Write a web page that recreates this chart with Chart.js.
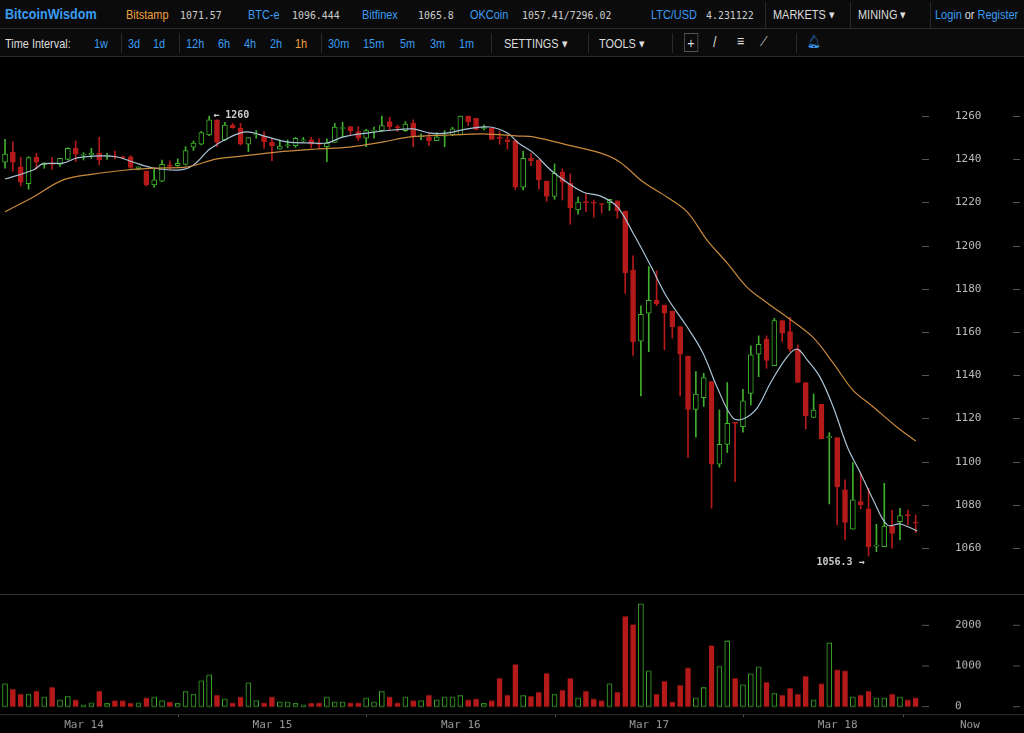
<!DOCTYPE html>
<html>
<head>
<meta charset="utf-8">
<script src="https://cdn.jsdelivr.net/npm/chart.js@4"></script>
<style>
  body { margin: 0; background: #000; width: 1024px; height: 733px; overflow: hidden; position: relative;
         font-family: "Liberation Sans", sans-serif; }
  .row { position: absolute; left: 0; width: 1024px; background: #0b0b0b; }
  #r1 { top: 0; height: 28px; border-bottom: 1px solid #2a2a2a; }
  #r2 { top: 29px; height: 27px; border-bottom: 1px solid #2a2a2a; }
  .t { position: absolute; top: 7px; font-size: 13px; white-space: nowrap; transform: scaleX(0.84); transform-origin: left center; }
  .b { color: #3a9cf2; }
  .o { color: #f0a040; }
  .w { color: #ddd; }
  .n { color: #ccc; font-family: "DejaVu Sans Mono", monospace; font-size: 11px; top: 9px; transform: scaleX(0.9); }
  .sep { position: absolute; top: 4px; width: 1px; height: 20px; background: #2a2a2a; }
  canvas { position: absolute; left: 0; }
  #price { top: 57px; }
  #vol { top: 594px; border-top: 1px solid #333; }
</style>
</head>
<body>
<div class="row" id="r1">
  <span class="t b" style="left:5px;font-size:15px;font-weight:bold;top:5px">BitcoinWisdom</span>
  <span class="t o" style="left:126px">Bitstamp</span><span class="t n" style="left:180px">1071.57</span>
  <span class="t b" style="left:248px">BTC-e</span><span class="t n" style="left:292px">1096.444</span>
  <span class="t b" style="left:362px">Bitfinex</span><span class="t n" style="left:418px">1065.8</span>
  <span class="t b" style="left:470px">OKCoin</span><span class="t n" style="left:522px">1057.41/7296.02</span>
  <span class="t b" style="left:651px">LTC/USD</span><span class="t n" style="left:706px">4.231122</span>
  <div class="sep" style="left:765px;top:2px;height:26px"></div>
  <span class="t w" style="left:773px">MARKETS ▾</span>
  <div class="sep" style="left:850px;top:2px;height:26px"></div>
  <span class="t w" style="left:858px">MINING ▾</span>
  <div class="sep" style="left:930px;top:2px;height:26px"></div>
  <span class="t b" style="left:935px">Login <span class="w">or</span> Register</span>
</div>
<div class="row" id="r2">
  <span class="t w" style="left:5px">Time Interval:</span>
  <span class="t b" style="left:94px">1w</span>
  <div class="sep" style="left:121px"></div>
  <span class="t b" style="left:128px">3d</span><span class="t b" style="left:153px">1d</span>
  <div class="sep" style="left:179px"></div>
  <span class="t b" style="left:186px">12h</span><span class="t b" style="left:218px">6h</span>
  <span class="t b" style="left:244px">4h</span><span class="t b" style="left:270px">2h</span>
  <span class="t o" style="left:295px">1h</span>
  <div class="sep" style="left:321px"></div>
  <span class="t b" style="left:328px">30m</span><span class="t b" style="left:363px">15m</span>
  <span class="t b" style="left:400px">5m</span><span class="t b" style="left:430px">3m</span>
  <span class="t b" style="left:459px">1m</span>
  <div class="sep" style="left:491px"></div>
  <span class="t w" style="left:504px">SETTINGS ▾</span>
  <div class="sep" style="left:588px"></div>
  <span class="t w" style="left:599px">TOOLS ▾</span>
  <div class="sep" style="left:672px"></div>
  <span class="t w" style="left:684px;top:4px;border:1px solid #555;padding:0 3px;font-size:15px">+</span>
  <span class="t w" style="left:713px;top:4px;font-size:15px">/</span>
  <span class="t w" style="left:737px;top:3px;font-size:15px">≡</span>
  <span class="t w" style="left:760px;top:5px;font-size:13px">⟋</span>
  <div class="sep" style="left:796px"></div>
  <span class="t b" style="left:807px;top:5px">🔔︎</span>
</div>

<canvas id="price" width="1024" height="537"></canvas>
<canvas id="vol" width="1024" height="138"></canvas>

<script>
// ---------- data (hourly candles, index 1..117) ----------
const opens = [1238.6,1243.2,1236.4,1228.7,1240.9,1237.6,1238.3,1237.6,1239.9,1245.0,1241.8,1242.0,1242.7,1241.4,1241.4,1241.0,1241.1,1235.5,1234.5,1228.1,1229.8,1237.4,1237.0,1237.6,1245.5,1247.0,1251.2,1258.2,1248.9,1255.8,1254.3,1247.0,1251.2,1250.7,1247.8,1244.6,1246.2,1246.3,1248.5,1248.9,1247.0,1245.8,1247.8,1254.2,1255.1,1252.8,1249.7,1253.0,1253.2,1257.4,1254.9,1253.2,1256.6,1250.4,1250.1,1248.6,1250.7,1251.2,1251.2,1260.0,1258.9,1254.2,1254.3,1249.9,1248.9,1248.6,1227.0,1240.4,1239.7,1229.9,1222.7,1234.0,1228.8,1216.5,1220.3,1220.0,1219.3,1219.9,1220.7,1216.0,1188.7,1155.8,1168.7,1174.8,1172.5,1169.7,1162.5,1148.9,1124.2,1129.6,1137.0,1098.8,1108.0,1118.1,1116.2,1131.6,1149.7,1156.6,1144.4,1165.3,1160.2,1152.1,1136.6,1120.4,1126.5,1111.1,1111.1,1086.9,1068.7,1081.5,1078.1,1060.9,1060.6,1070.2,1072.2,1075.4,1071.9];
const highs = [1249.2,1248.1,1240.9,1241.2,1242.7,1238.3,1240.9,1240.4,1245.3,1248.4,1243.0,1245.0,1250.1,1242.7,1243.8,1241.4,1241.7,1236.4,1234.5,1235.3,1239.6,1239.2,1240.1,1245.8,1248.4,1252.8,1260.0,1258.2,1257.1,1256.6,1256.6,1250.0,1253.2,1252.8,1249.7,1248.9,1248.9,1250.1,1250.1,1250.1,1249.4,1249.4,1256.6,1257.1,1255.1,1255.1,1253.8,1254.8,1260.0,1259.4,1255.8,1257.4,1258.2,1251.7,1252.0,1252.3,1253.2,1254.8,1260.0,1260.0,1258.9,1255.8,1254.6,1252.8,1250.9,1248.6,1243.8,1242.7,1239.7,1229.9,1237.8,1235.5,1233.2,1222.4,1224.2,1221.1,1219.3,1221.4,1220.7,1216.0,1195.2,1172.1,1190.3,1188.3,1172.5,1169.7,1162.5,1148.9,1141.7,1140.9,1137.0,1123.9,1136.6,1118.1,1133.5,1153.6,1158.2,1158.2,1166.3,1165.3,1166.8,1154.0,1136.6,1131.3,1126.5,1113.4,1111.1,1091.5,1099.5,1094.6,1087.6,1071.0,1090.0,1077.6,1078.4,1077.6,1075.3];
const lows = [1235.8,1234.5,1227.6,1226.1,1235.3,1235.8,1235.3,1236.6,1239.6,1238.9,1239.6,1240.4,1237.3,1239.9,1240.1,1240.1,1235.8,1235.0,1227.6,1227.0,1229.6,1235.3,1236.7,1237.3,1244.0,1246.6,1250.9,1245.8,1248.6,1254.3,1246.6,1243.5,1249.7,1245.0,1239.3,1244.6,1245.3,1245.5,1248.1,1245.3,1245.0,1238.9,1247.8,1250.1,1251.2,1248.6,1245.8,1249.7,1252.8,1253.5,1252.8,1252.8,1245.8,1248.9,1246.3,1248.6,1245.8,1250.9,1251.2,1255.5,1253.5,1253.5,1249.2,1246.9,1244.6,1225.8,1225.8,1237.0,1226.1,1220.4,1221.4,1221.1,1209.9,1214.5,1215.7,1213.1,1215.0,1216.2,1212.6,1177.9,1149.1,1130.4,1150.9,1172.2,1151.7,1157.1,1130.4,1101.8,1111.3,1125.5,1078.4,1097.4,1104.2,1090.7,1113.6,1126.2,1139.3,1143.2,1144.4,1155.5,1150.9,1136.6,1115.1,1120.4,1110.5,1080.4,1070.7,1063.7,1068.7,1078.1,1056.3,1058.3,1060.6,1059.9,1063.7,1070.7,1067.1];
const closes = [1242.3,1238.6,1229.3,1240.7,1238.6,1238.3,1237.6,1240.4,1245.0,1242.4,1242.1,1242.7,1239.6,1241.7,1241.1,1240.6,1236.2,1236.4,1228.1,1230.4,1237.6,1236.6,1238.1,1244.0,1247.4,1252.3,1258.2,1247.8,1255.8,1254.6,1247.0,1250.0,1251.4,1248.1,1246.3,1246.1,1246.3,1249.7,1248.8,1247.0,1246.8,1247.4,1254.8,1254.5,1253.1,1249.7,1253.2,1253.1,1255.5,1255.1,1254.6,1256.3,1250.4,1250.5,1248.6,1250.4,1251.0,1254.0,1260.0,1257.4,1253.8,1254.4,1249.2,1249.6,1248.1,1227.0,1240.4,1239.3,1230.4,1222.7,1233.5,1229.3,1217.6,1220.1,1219.9,1219.6,1219.0,1221.4,1216.2,1187.5,1155.5,1168.2,1174.7,1173.0,1168.7,1162.5,1149.7,1124.2,1131.2,1138.9,1098.8,1108.0,1117.7,1117.7,1128.1,1149.4,1154.3,1146.8,1165.3,1159.4,1152.0,1136.6,1121.3,1123.9,1110.5,1111.3,1088.4,1071.8,1082.3,1079.9,1060.6,1061.2,1070.2,1066.8,1075.0,1075.0,1071.5];
const volumes = [554,418,297,297,370,233,466,160,249,160,40,88,370,72,137,137,72,88,209,233,137,112,72,370,297,626,771,273,185,88,233,578,137,88,233,112,112,72,40,72,88,233,112,112,88,88,209,112,370,233,88,233,137,137,273,160,233,233,273,160,185,72,137,683,273,1020,273,249,345,803,297,393,683,209,370,185,137,554,345,2200,2000,2505,867,297,610,112,514,940,209,458,1478,980,1598,683,530,795,964,586,321,273,434,297,731,160,554,1558,891,867,233,273,370,209,209,297,233,160,209];

// moving averages: [candle index, price]
const maFast = [[1,1230.8],[4.6,1235.0],[5.8,1237.8],[8.4,1238.2],[10.2,1240.6],[13.1,1241.5],[15.3,1241.0],[17.3,1238.7],[19.9,1235.9],[23.3,1235.0],[25.0,1237.3],[27.1,1244.7],[29.7,1250.3],[31.8,1252.6],[34.4,1250.3],[36.9,1248.0],[39.9,1247.5],[42.0,1247.5],[44.1,1250.3],[47.1,1252.1],[50.4,1253.5],[53.0,1254.0],[55.1,1252.1],[57.3,1252.1],[59.9,1254.0],[62.8,1254.9],[65.0,1252.1],[66.4,1247.5],[68.3,1242.9],[70.8,1234.1],[74.6,1224.8],[76.8,1223.0],[79.0,1217.9],[81.0,1205.8],[83.2,1191.0],[85.3,1176.2],[87.9,1162.3],[89.9,1150.3],[91.7,1134.5],[93.7,1120.2],[95.0,1119.7],[96.8,1124.8],[98.5,1136.4],[100.6,1148.4],[101.9,1152.1],[103.2,1147.0],[104.8,1139.2],[106.5,1125.3],[108.3,1106.8],[109.9,1095.2],[111.6,1082.2],[113.4,1070.6],[115.0,1071.1],[117.2,1067.9]];
const maSlow = [[1,1215.6],[4.6,1222.5],[8.4,1230.4],[12.2,1233.1],[16.5,1235.0],[20.4,1235.9],[24.2,1236.4],[28.0,1240.1],[31.3,1241.5],[35.6,1243.3],[40.7,1244.7],[44.9,1245.6],[49.2,1248.0],[52.6,1250.3],[57.7,1251.2],[61.9,1251.7],[66.4,1250.7],[68.3,1250.3],[72.6,1246.6],[76.8,1242.9],[79.3,1238.7],[82.3,1229.4],[85.3,1222.5],[87.9,1215.6],[90.4,1202.6],[93.0,1191.9],[95.5,1180.8],[98.1,1173.4],[100.6,1166.9],[103.9,1157.6],[106.5,1145.6],[109.0,1133.1],[111.6,1125.3],[114.6,1116.0],[117.0,1109.5]];

const priceTicks = [1060, 1080, 1100, 1120, 1140, 1160, 1180, 1200, 1220, 1240, 1260];
const volTicks = [0, 1000, 2000];
const dayTickPos = [11.06, 35.06, 59.06, 83.06, 107.06, 123.9];
const dayTickLabels = ["Mar 14", "Mar 15", "Mar 16", "Mar 17", "Mar 18", "Now"];

// ---------- helpers ----------
const GREEN = "#3fb02c", RED = "#b51a1a";
const idx = opens.map((_, i) => i + 1);
const up = idx.map((_, i) => closes[i] >= opens[i]);
const X_MIN = 0.36, X_MAX = 130.8;
const MONO = '"DejaVu Sans Mono", monospace';

function noAxis(min, max) {
  return { type: "linear", min, max, display: false, offset: false };
}

// right-side labels + little tick dashes
function sideLabels(ticks, fmt) {
  return {
    id: "sideLabels",
    afterDraw(c) {
      const ctx = c.ctx, y = c.scales.y;
      ctx.save();
      ctx.font = "11px " + MONO;
      ctx.fillStyle = "#bbb";
      ctx.strokeStyle = "#555";
      ctx.textBaseline = "middle";
      ticks.forEach(t => {
        const py = Math.round(y.getPixelForValue(t)) + 0.5;
        ctx.beginPath();
        ctx.moveTo(922, py); ctx.lineTo(929, py);
        ctx.moveTo(1013, py); ctx.lineTo(1020, py);
        ctx.stroke();
        ctx.fillText(fmt(t), 955, py);
      });
      ctx.restore();
    }
  };
}

// "← 1260" and "1056.3 →" markers
const extremes = {
  id: "extremes",
  afterDraw(c) {
    const ctx = c.ctx, x = c.scales.x, y = c.scales.y;
    const hi = Math.max(...highs), lo = Math.min(...lows);
    const hiI = highs.indexOf(hi) + 1, loI = lows.indexOf(lo) + 1;
    ctx.save();
    ctx.font = "bold 10px " + MONO;
    ctx.fillStyle = "#ccc";
    ctx.textBaseline = "middle";
    ctx.textAlign = "left";
    ctx.fillText("← " + hi.toFixed(0), x.getPixelForValue(hiI) + 4, y.getPixelForValue(hi) - 1);
    ctx.textAlign = "right";
    ctx.fillText(lo.toFixed(1) + " →", x.getPixelForValue(loI) - 4, y.getPixelForValue(lo) + 6);
    ctx.restore();
  }
};

// ================= PRICE =================
new Chart(document.getElementById("price"), {
  data: {
    datasets: [
      {
        type: "line", data: maSlow.map(p => ({ x: p[0], y: p[1] })),
        borderColor: "#c98a3e", borderWidth: 1.2, pointRadius: 0, tension: 0.35, order: 0
      },
      {
        type: "line", data: maFast.map(p => ({ x: p[0], y: p[1] })),
        borderColor: "#a9c3d6", borderWidth: 1.2, pointRadius: 0, tension: 0.35, order: 0
      },
      {
        type: "bar", grouped: false, order: 1,
        data: idx.map((n, i) => ({ x: n, y: [opens[i], closes[i]] })),
        backgroundColor: up.map(u => u ? "#000" : RED),
        borderColor: up.map(u => u ? GREEN : RED),
        borderWidth: 1, borderSkipped: false, barThickness: 5, minBarLength: 1
      },
      {
        type: "bar", grouped: false, order: 2,
        data: idx.map((n, i) => ({ x: n, y: [lows[i], highs[i]] })),
        backgroundColor: up.map(u => u ? GREEN : RED),
        borderWidth: 0, barThickness: 1
      }
    ]
  },
  options: {
    responsive: false, animation: false,
    layout: { padding: 0 },
    plugins: { legend: { display: false }, tooltip: { enabled: false } },
    scales: { x: noAxis(X_MIN, X_MAX), y: noAxis(1038.7, 1287.3) }
  },
  plugins: [sideLabels(priceTicks, t => String(t)), extremes]
});

// ================= VOLUME =================
new Chart(document.getElementById("vol"), {
  type: "bar",
  data: {
    datasets: [{
      data: idx.map((n, i) => ({ x: n, y: volumes[i] })),
      backgroundColor: up.map(u => u ? "#000" : RED),
      borderColor: up.map(u => u ? GREEN : RED),
      borderWidth: 1, borderSkipped: false, barThickness: 5
    }]
  },
  options: {
    responsive: false, animation: false,
    layout: { padding: 0 },
    plugins: { legend: { display: false }, tooltip: { enabled: false } },
    scales: {
      x: {
        type: "linear", min: X_MIN, max: X_MAX, offset: false,
        afterBuildTicks: s => { s.ticks = dayTickPos.map(v => ({ value: v })); },
        afterFit: s => { s.height = 18; },
        ticks: {
          autoSkip: false, maxRotation: 0, padding: 2,
          color: "#999", font: { family: MONO, size: 11 },
          callback: (v, i) => dayTickLabels[i]
        },
        grid: { drawOnChartArea: false, tickLength: 3, color: "#555" },
        border: { color: "#333" }
      },
      y: noAxis(-185, 2720)
    }
  },
  plugins: [sideLabels(volTicks, t => String(t))]
});
</script>
</body>
</html>
